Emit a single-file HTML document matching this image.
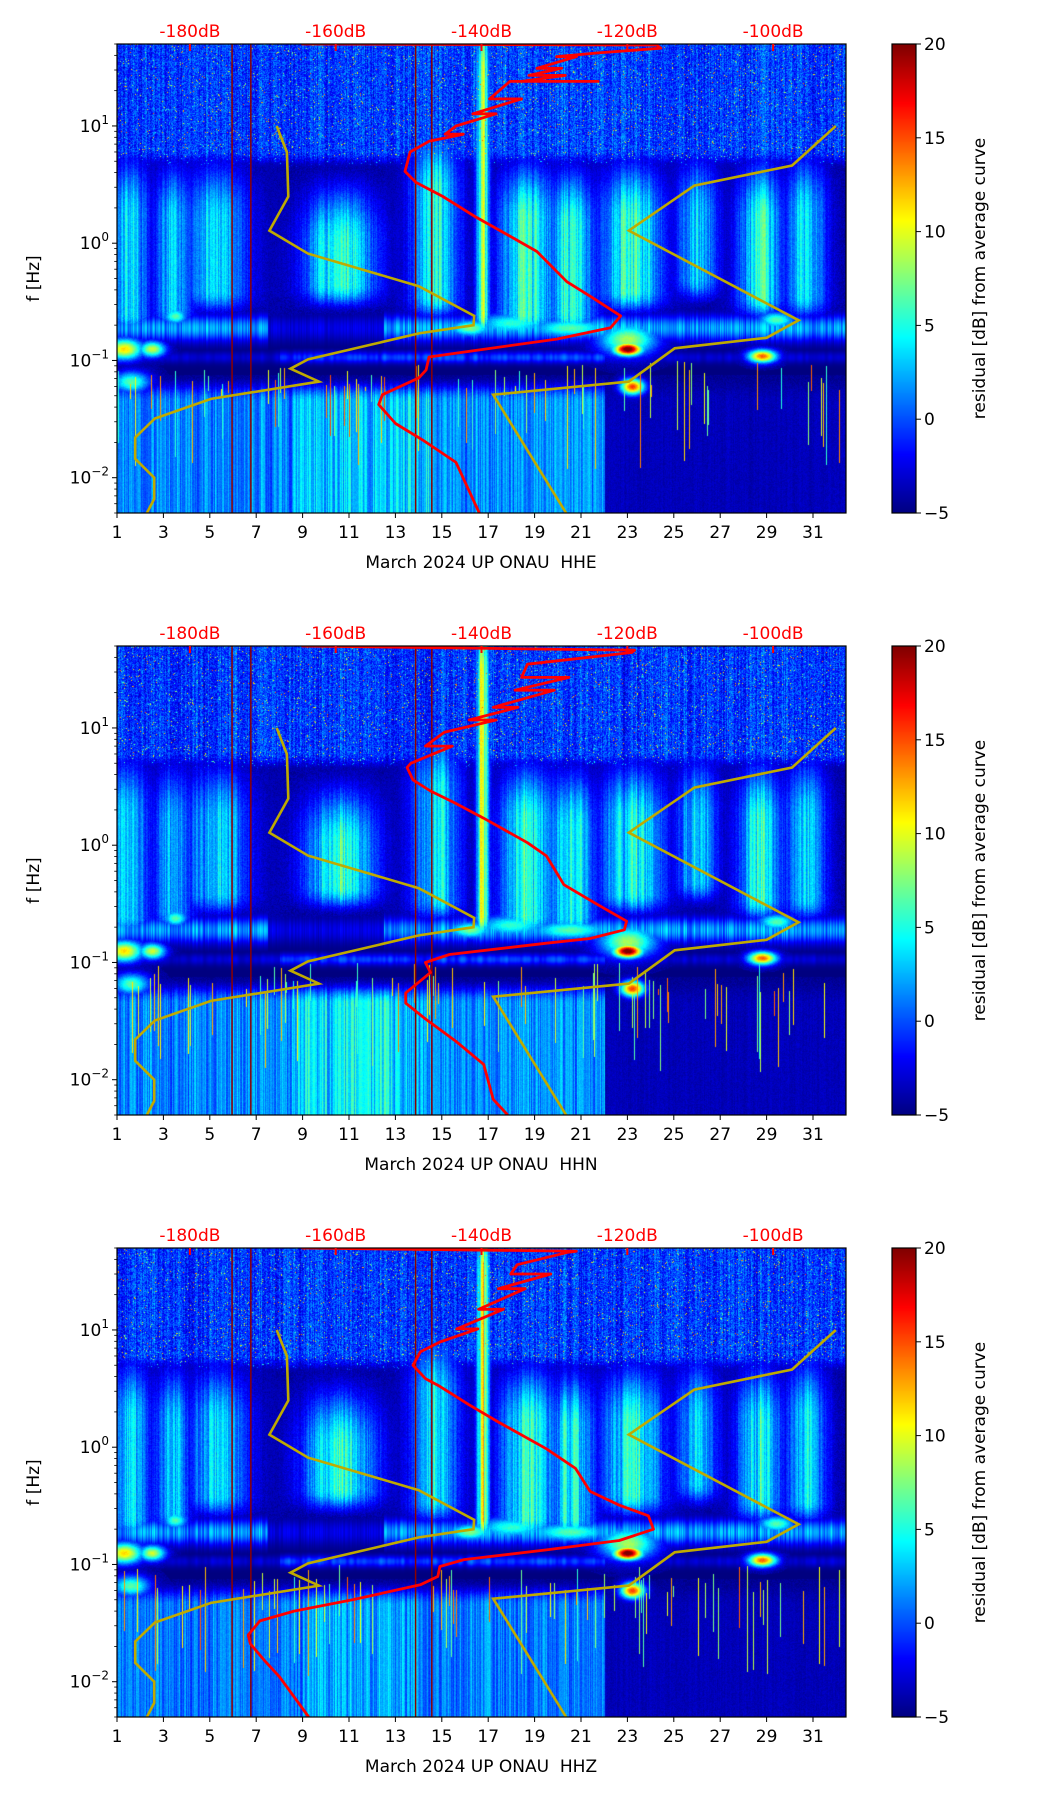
<!DOCTYPE html>
<html><head><meta charset="utf-8">
<style>
html,body{margin:0;padding:0;background:#fff;}
#wrap{position:relative;width:1052px;height:1806px;overflow:hidden;font-family:"DejaVu Sans","Liberation Sans",sans-serif;}
canvas{position:absolute;}
svg{position:absolute;left:0;top:0;}
</style></head>
<body>
<div id="wrap">
<canvas id="c0" width="729" height="469" style="left:117px;top:44px"></canvas>
<canvas id="c1" width="729" height="469" style="left:117px;top:646px"></canvas>
<canvas id="c2" width="729" height="469" style="left:117px;top:1248px"></canvas>
<canvas id="cb0" width="24" height="469" style="left:892px;top:44px"></canvas>
<canvas id="cb1" width="24" height="469" style="left:892px;top:646px"></canvas>
<canvas id="cb2" width="24" height="469" style="left:892px;top:1248px"></canvas>
<svg id="ov" width="1052" height="1806" xmlns="http://www.w3.org/2000/svg"></svg>
</div>
<script>
// ---- chart data ----
const dayTicks = [1,3,5,7,9,11,13,15,17,19,21,23,25,27,29,31];
const dbTicks = [-180,-160,-140,-120,-100];
const cbTicks = [20,15,10,5,0,-5];
const panelTitles = ["March 2024 UP ONAU\u00a0\u00a0HHE","March 2024 UP ONAU\u00a0\u00a0HHN","March 2024 UP ONAU\u00a0\u00a0HHZ"];
const nlnmFreq = [10,5.97,2.5,1.28,0.815,0.43,0.24,0.2,0.17,0.102,0.085,0.066,0.047,0.032,0.022,0.0145,0.01,0.0066,0.005];
const nlnmDb = [-168.1,-166.7,-166.5,-169.1,-163.8,-148.6,-141.0,-141.1,-148.6,-163.8,-166.2,-162.3,-177.1,-184.8,-187.5,-187.5,-184.9,-184.9,-185.9];
const nhnmFreq = [10,4.6,3.1,1.28,0.22,0.156,0.127,0.066,0.051,0.005];
const nhnmDb = [-91.4,-97.4,-110.8,-119.8,-96.5,-100.9,-113.5,-119.8,-138.4,-128.4];
const redFreqE = [50,49,46,42,39,39,31,31,27,27,24,24,24,17,17,12.7,12.7,10,8.5,8.5,7.4,6,4.1,3.3,2.5,1.66,1.15,0.85,0.47,0.35,0.24,0.19,0.152,0.12,0.107,0.083,0.071,0.051,0.042,0.029,0.021,0.0135,0.005];
const redDbE = [-164.7,-116,-115.4,-124,-129.7,-127,-132.4,-129,-133.5,-128.5,-134.5,-124,-136.1,-138.9,-134.5,-141.2,-138,-143.5,-145,-142.5,-147.2,-149.8,-150.5,-149,-145.3,-140.7,-136.1,-132.4,-128.3,-125.0,-120.9,-122.3,-129.7,-141.6,-147.2,-147.6,-148.6,-153.6,-154.1,-151.8,-148.1,-143.5,-140.3];
const redFreqN = [50,46,44,35,27,27,21,21,15,15,11.7,11.7,9.2,7,7,5.0,4.6,3.6,2.9,2.3,1.7,1.05,0.81,0.46,0.32,0.225,0.19,0.16,0.146,0.117,0.1,0.082,0.055,0.045,0.033,0.021,0.0135,0.0068,0.005];
const redDbN = [-164.7,-119,-119.4,-133.7,-134.5,-128,-135.4,-130,-138.4,-135,-141.7,-138,-145.1,-147.7,-144,-149.7,-150.2,-149.4,-147.0,-143.7,-139.7,-133.7,-131.1,-128.7,-124.4,-120.1,-120.4,-125.1,-131.1,-144.4,-147.7,-147.0,-150.4,-150.4,-147.7,-143.4,-139.7,-138.4,-136.4];
const redFreqZ = [50,47,46,36,30,30,22.5,22.5,15,15,10.2,10.2,7.9,6.5,5,3.85,3.3,2.3,1.64,0.97,0.66,0.42,0.32,0.26,0.2,0.16,0.133,0.11,0.096,0.079,0.067,0.05,0.04,0.033,0.025,0.021,0.015,0.011,0.005];
const redDbZ = [-164.7,-127,-128.1,-135.1,-136,-130.5,-137.7,-134,-140.4,-137,-143.4,-140.5,-145.7,-148.4,-149.4,-147.7,-145.7,-141.7,-137.7,-131.1,-127.1,-125.1,-121.1,-117.1,-116.4,-121.1,-131.1,-142.4,-145.7,-146.0,-148.4,-157.7,-165.7,-170.4,-172.0,-171.7,-169.7,-167.7,-163.7];
const redFreq = [redFreqE, redFreqN, redFreqZ];
const redDb = [redDbE, redDbN, redDbZ];
const darkLineDays = [5.96, 6.77, 13.87, 14.57];

// ---- geometry ----
const PX0 = 117, PW = 729, PH = 469, TOPS = [44,646,1248];
const DAY0 = 1, PXDAY = 23.2;
const DB0 = -190, DB1 = -90;
const LF0 = Math.log10(0.005), LF1 = Math.log10(50);
function xDay(d){ return PX0 + (d-DAY0)*PXDAY; }
function xDb(db){ return PX0 + (db-DB0)/(DB1-DB0)*PW; }
function yF(T,f){ return T + (LF1-Math.log10(f))/(LF1-LF0)*PH; }
function yCb(T,v){ return T + (20-v)/25*PH; }

function jet(t){
  t=Math.max(0,Math.min(1,t));
  const c=x=>Math.max(0,Math.min(1,x));
  return [c(1.5-Math.abs(4*t-3))*255, c(1.5-Math.abs(4*t-2))*255, c(1.5-Math.abs(4*t-1))*255];
}
function mulberry(a){return function(){a|=0;a=a+0x6D2B79F5|0;let t=Math.imul(a^a>>>15,1|a);t=t+Math.imul(t^t>>>7,61|t)^t;return((t^t>>>14)>>>0)/4294967296;}}
function ss(a,b,x){let t=(x-a)/(b-a);t=Math.max(0,Math.min(1,t));return t*t*(3-2*t);}

// procedural background texture (not chart data)
const plumes=[[1.5,1.0,0.6,-0.75,3.5],[3.4,0.9,0.55,-0.7,3],[5.3,1.6,0.55,-0.55,3],[10.6,1.8,0.35,-0.5,5],[14.7,1.2,0.8,-0.6,4],[16.75,0.3,1.8,-0.75,9],[18.7,1.4,0.55,-0.75,5],[20.6,1.1,0.5,-0.75,4.5],[23.2,1.5,0.55,-0.55,5],[26.0,1.0,0.6,-0.45,3],[28.7,1.1,0.55,-0.6,4.5],[30.7,1.0,0.6,-0.6,3.5]];
const blobs=[[1.3,0.7,-0.9,0.08,11],[2.5,0.5,-0.9,0.06,9],[23,0.55,-0.9,0.05,21],[23,1.1,-0.82,0.12,8],[23.2,0.45,-1.22,0.06,15],[28.8,0.55,-0.96,0.05,14],[1.6,0.7,-1.18,0.08,6],[3.5,0.45,-0.62,0.06,6],[16.2,0.8,-0.72,0.06,7],[20.5,1.5,-0.72,0.07,6],[29.4,0.7,-0.65,0.06,6],[18,1.4,-0.68,0.08,5]];
function drawSpec(idx){
  const cv=document.getElementById('c'+idx), ctx=cv.getContext('2d');
  const img=ctx.createImageData(PW,PH), D=img.data, r=mulberry(17+idx*31);
  const sm=[],colN=[],colL=[];
  for(let x=0;x<PW;x++){sm.push(r());}
  for(let k=0;k<3;k++){for(let x=1;x<PW-1;x++){sm[x]=(sm[x-1]+sm[x]*2+sm[x+1])/4;}}
  for(let x=0;x<PW;x++){colN.push(0.5*sm[x]+0.5*r());colL.push(0.4*sm[x]+0.6*r());}
  const spikes={};
  for(let i=0;i<70;i++){spikes[Math.floor(r()*PW)]=[-1.0-r()*0.25,-1.25-r()*0.7,5+r()*10];}
  for(let x=0;x<PW;x++){
    const d=DAY0+x/PXDAY;
    let lfS = d<22? (d>8.5&&d<14.5? 3.5:1.8) : -4;
    if(idx===1 && d>9 && d<13) lfS=4.5;
    if(idx===2) lfS = d<22? (d>9&&d<14?2.5:1.2) : -4;
    for(let y=0;y<PH;y++){
      const lf=LF1-(y/PH)*(LF1-LF0);
      let v=-5;
      const hf=ss(0.6,0.8,lf);
      if(hf>0){let s=-3+5*colN[x]+(r()*4-2); if(r()<0.025)s=5+r()*10; v=Math.max(v,-5+(s+5)*hf);}
      for(const p of plumes){const dx=(d-p[0])/p[1]; if(Math.abs(dx)>1.8)continue;
        const h=ss(p[3]-0.12,p[3]+0.15,lf)*(1-ss(p[2]-0.35,p[2]+0.4,lf));
        if(h<=0)continue; const val=-5+(p[4]+5)*Math.exp(-dx*dx*1.3)*h*(0.45+1.0*colN[x])+r()*1.5; if(val>v)v=val;}
      for(const b of blobs){const dx=(d-b[0])/b[1],dy=(lf-b[2])/b[3]; const e=dx*dx+dy*dy; if(e>6)continue;
        const val=-5+(b[4]+5)*Math.exp(-e*0.8)+r(); if(val>v)v=val;}
      const band=Math.exp(-Math.pow((lf+0.72)/0.11,2))*(d<7.5||d>12.5?1:0.35);
      v=Math.max(v,-5+band*(3+8*colN[x]));
      const band2=Math.exp(-Math.pow((lf+0.97)/0.05,2))*(d>8&&d<22?0.9:0.4);
      v=Math.max(v,-5+band2*(2+6*sm[x]));
      if(lf<-1.12){const t=ss(-1.12,-1.35,lf); const val=-5+(lfS+5)*t*(0.45+0.9*colL[x])+r()*1.0; if(val>v)v=val;}
      const sp=spikes[x]; if(sp && lf<sp[0] && lf>sp[1]) v=Math.max(v,sp[2]);
      const c=jet((v+5)/25), o=(y*PW+x)*4;
      D[o]=c[0];D[o+1]=c[1];D[o+2]=c[2];D[o+3]=255;
    }
  }
  ctx.putImageData(img,0,0);
  const cb=document.getElementById('cb'+idx).getContext('2d');
  for(let y=0;y<PH;y++){const c=jet(1-y/PH);cb.fillStyle='rgb('+c.map(Math.round).join(',')+')';cb.fillRect(0,y,24,1);}
}

const NS='http://www.w3.org/2000/svg', ov=document.getElementById('ov');
function mk(tag,attrs,parent){const e=document.createElementNS(NS,tag);for(const k in attrs)e.setAttribute(k,attrs[k]);(parent||ov).appendChild(e);return e;}
function polyPts(T,fs,dbs){return fs.map((f,i)=>xDb(dbs[i]).toFixed(1)+','+yF(T,f).toFixed(1)).join(' ');}

for(let p=0;p<3;p++){
  drawSpec(p);
  const T=TOPS[p];
  const g=mk('g',{});
  
  
  const clip=mk('clipPath',{id:'clip'+p},g); mk('rect',{x:PX0,y:T,width:PW,height:PH},clip);
  for(const dd of darkLineDays){
    const l=mk('line',{x1:xDay(dd),x2:xDay(dd),y1:T,y2:T+PH,stroke:'#8b0000','stroke-width':1.5},g);
    
    
  }
  const lo=mk('polyline',{points:polyPts(T,nlnmFreq,nlnmDb),fill:'none',stroke:'#bfaa00','stroke-width':2.6,'clip-path':'url(#clip'+p+')'},g);
  
  
  const hi=mk('polyline',{points:polyPts(T,nhnmFreq,nhnmDb),fill:'none',stroke:'#bfaa00','stroke-width':2.6,'clip-path':'url(#clip'+p+')'},g);
  
  
  const rc=mk('polyline',{points:polyPts(T,redFreq[p],redDb[p]),fill:'none',stroke:'#ff0000','stroke-width':2.8,'stroke-linejoin':'round','clip-path':'url(#clip'+p+')'},g);
  
  
  const fr=mk('rect',{x:PX0,y:T,width:PW,height:PH,fill:'none',stroke:'#000','stroke-width':1.2},g);
  
  
  for(const d of dayTicks){
    const x=xDay(d);
    mk('line',{x1:x,x2:x,y1:T+PH,y2:T+PH+5,stroke:'#000','stroke-width':1},g);
    const t=mk('text',{x:x,y:T+PH+25,'text-anchor':'middle','font-size':17,fill:'#000'},g);
    t.textContent=d;
    
    
  }
  const xl=mk('text',{x:481,y:T+PH+55,'text-anchor':'middle','font-size':17,fill:'#000'},g);
  xl.textContent=panelTitles[p];
  
  
  for(let k=-3;k<=1;k++){
    for(let m=1;m<=9;m++){
      const f=m*Math.pow(10,k); if(f<0.005||f>50)continue;
      const y=yF(T,f);
      mk('line',{x1:PX0-(m===1?5:2.8),x2:PX0,y1:y,y2:y,stroke:'#000','stroke-width':m===1?1:0.8},g);
      if(m===1){
        const t=mk('text',{x:PX0-8,y:y+6,'text-anchor':'end','font-size':17,fill:'#000'},g);
        
        
        const a=mk('tspan',{},t); a.textContent='10';
        const b=mk('tspan',{dy:-8,'font-size':12},t); b.textContent=(k<0?'\u2212':'')+Math.abs(k);
      }
    }
  }
  const yl=mk('text',{x:0,y:0,transform:'translate(39,'+(T+PH/2)+') rotate(-90)','text-anchor':'middle','font-size':17,fill:'#000'},g);
  yl.textContent='f [Hz]';
  
  
  for(const db of dbTicks){
    const x=xDb(db);
    mk('line',{x1:x,x2:x,y1:T,y2:T+7,stroke:'#ff0000','stroke-width':2},g);
    const t=mk('text',{x:x,y:T-7,'text-anchor':'middle','font-size':17,fill:'#ff0000'},g);
    t.textContent=db+'dB';
    
    
  }
  const cbf=mk('rect',{x:892,y:T,width:24,height:PH,fill:'none',stroke:'#000','stroke-width':1.2},g);
  
  
  for(const v of cbTicks){
    const y=yCb(T,v);
    mk('line',{x1:916,x2:921,y1:y,y2:y,stroke:'#000','stroke-width':1},g);
    const t=mk('text',{x:924,y:y+6,'font-size':17,fill:'#000'},g);
    t.textContent=(v<0?'\u2212':'')+Math.abs(v);
    
    
  }
  const cl=mk('text',{x:0,y:0,transform:'translate(985,'+(T+PH/2)+') rotate(-90)','text-anchor':'middle','font-size':17,fill:'#000'},g);
  cl.textContent='residual [dB] from average curve';
  
  
}
</script>
</body></html>
